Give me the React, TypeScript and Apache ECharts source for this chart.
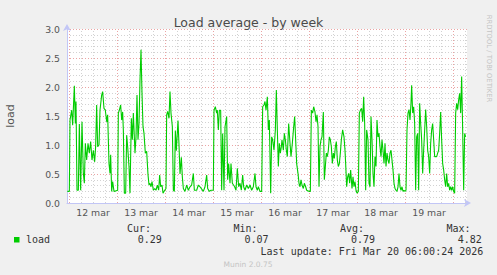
import React, { useEffect, useRef } from "react";
import * as echarts from "echarts";

// hours since Mar 11 23:00 (x), load average (y)
const hours = [
  0.17, 1.17, 1.5, 2.33, 2.83, 3.67, 4.17, 4.5, 5.0, 5.67, 6.17, 6.83, 7.5, 8.17, 8.67, 9.17, 9.83, 10.5, 11.17, 11.83,
  12.5, 13.17, 13.83, 14.33, 14.83, 15.33, 16.0, 16.5, 17.33, 17.83, 18.5, 19.17, 19.83, 20.33, 21.0, 21.5, 21.83, 22.33, 22.83, 23.5,
  25.33, 25.67, 26.17, 26.83, 27.33, 27.83, 28.17, 28.67, 29.33, 29.83, 30.33, 31.0, 31.5, 32.17, 32.67, 33.17, 34.0, 34.5, 35.0, 35.5,
  36.0, 36.5, 37.0, 37.5, 38.0, 38.5, 39.17, 39.83, 40.5, 41.0, 41.5, 42.0, 42.5, 43.17, 43.83, 44.5, 45.17, 45.83, 46.33, 46.83,
  47.5, 48.0, 48.5, 49.5, 49.83, 50.33, 51.0, 51.5, 52.0, 52.67, 53.17, 53.67, 54.17, 54.67, 55.5, 56.0, 56.5, 57.17, 57.67, 58.17,
  59.0, 59.83, 60.67, 61.5, 62.33, 63.17, 63.67, 64.83, 65.67,
  66.5, 68.17, 69.0, 69.83, 70.33, 71.17, 72.0, 73.17, 73.5, 74.17, 74.83, 75.17, 75.67, 76.17, 76.83, 77.33, 77.83, 78.5, 79.0, 79.83,
  80.33, 80.83, 81.5, 82.0, 82.67, 83.83, 84.5, 85.17, 85.83, 86.5, 87.17, 87.83, 88.33, 89.0, 89.83, 90.67, 91.5, 92.33, 93.17, 94.0,
  94.5, 95.17, 95.67, 96.5, 97.33, 97.83, 98.5, 99.0, 99.5, 100.17, 100.67, 101.17, 101.83, 102.33, 102.83, 103.5, 104.17, 104.67, 105.17, 105.67,
  106.17, 106.67, 107.17, 107.5, 108.17, 108.67, 109.17, 109.67, 110.17, 110.83, 111.5, 112.0, 112.67, 113.33, 113.83, 114.33, 114.83, 115.5, 116.0, 116.5,
  117.0, 117.5, 118.17, 118.67, 119.33, 119.83, 121.17, 121.67, 122.17, 122.83, 123.33, 124.0, 124.5, 125.0, 125.5, 126.0, 126.5, 127.0, 127.5, 128.17,
  128.67, 129.17, 129.67, 130.17, 130.67, 131.17, 131.67, 132.17, 132.67, 133.17, 133.67, 134.17, 134.67, 135.17, 135.67, 136.17, 136.67, 137.17, 137.83, 138.5,
  139.0, 139.33, 139.83, 140.33, 140.83, 141.33, 141.83, 142.5, 143.0, 143.5, 144.0, 144.5, 145.0, 145.67, 146.17, 146.83, 147.33, 147.83, 148.33, 148.83,
  149.33, 149.83, 150.5, 151.0, 151.5, 152.0, 152.5, 153.0, 153.5, 154.0, 154.5, 155.0, 155.5, 156.0, 156.5, 157.0, 157.5, 158.0, 158.5, 159.0,
  159.5, 160.0, 160.5, 161.0, 161.5, 162.0, 162.5, 163.0, 163.5, 164.0, 164.5, 165.0, 165.5, 166.0, 166.5, 167.0, 167.5, 168.0, 168.5, 169.0,
  169.5, 170.0, 170.5, 171.0, 171.5, 172.0, 172.33, 172.83, 173.33, 173.83, 174.33, 174.83, 175.33, 175.83, 176.33, 176.83, 177.33, 177.83, 178.33, 178.83,
  179.33, 179.83, 180.33, 180.83, 181.33, 181.83, 182.33, 182.83, 183.33, 183.83, 184.33, 184.83, 185.33, 185.83, 186.33, 186.83, 187.33, 187.83, 188.33, 188.83,
  189.33, 189.83, 190.33, 190.83, 191.33, 191.83, 192.33, 192.83, 193.33, 193.83, 194.33, 194.83, 195.33, 195.83, 196.33, 196.83, 197.33, 197.83, 198.33, 198.83,
  199.33,
];
const load = [
  0.2, 0.2, 1.43, 1.6, 1.34, 2.02, 1.37, 1.75, 0.22, 0.22, 1.36, 0.22, 1.4, 0.51, 0.34, 1.03, 0.74, 1.03, 0.86, 1.06,
  0.74, 0.91, 0.71, 0.98, 1.69, 0.97, 1.0, 1.6, 1.86, 1.92, 1.63, 1.6, 1.4, 1.52, 0.68, 0.51, 0.83, 0.2, 0.37, 0.2,
  0.22, 1.55, 1.6, 1.69, 1.43, 1.57, 1.26, 0.17, 0.17, 1.17, 0.97, 0.63, 0.17, 1.46, 1.09, 1.55, 0.86, 1.14, 1.86, 1.09,
  1.37, 2.12, 2.64, 1.89, 1.32, 1.2, 0.86, 0.89, 0.49, 0.31, 0.34, 0.28, 0.37, 0.22, 0.25, 0.22, 0.31, 0.22, 0.48, 0.28,
  0.31, 0.17, 0.2, 0.25, 1.52, 1.58, 1.46, 1.92, 1.55, 1.32, 0.22, 0.2, 1.25, 0.9, 1.42, 1.0, 0.5, 0.79, 0.45, 0.25,
  0.2, 0.31, 0.22, 0.28, 0.31, 0.51, 0.22, 0.22, 0.31,
  0.28, 0.2, 0.28, 0.48, 0.25, 0.2, 0.22, 0.22, 1.6, 1.66, 1.55, 1.6, 1.26, 1.6, 1.6, 0.22, 1.2, 0.22, 1.31, 1.49,
  0.4, 0.68, 0.34, 0.68, 0.34, 0.28, 0.22, 0.6, 0.28, 0.34, 0.22, 0.48, 0.28, 0.22, 0.31, 0.25, 0.31, 0.22, 0.28, 0.51,
  0.28, 0.22, 0.28, 0.2, 0.2, 1.66, 1.69, 1.75, 1.6, 1.83, 1.26, 1.43, 0.17, 1.14, 1.09, 0.91, 1.26, 1.95, 1.26, 0.63,
  1.03, 0.86, 0.97, 1.09, 0.91, 1.2, 1.09, 0.91, 0.8, 1.37, 1.03, 0.8, 1.03, 1.31, 1.49, 1.09, 0.68, 0.51, 0.34, 0.28,
  0.4, 0.31, 0.25, 0.34, 0.28, 0.22, 0.2, 0.2, 1.6, 1.55, 1.66, 1.57, 1.4, 1.52, 1.32, 0.28, 0.97, 1.09, 1.14, 1.57,
  0.4, 0.63, 0.86, 0.8, 0.91, 1.14, 1.09, 0.97, 0.68, 0.86, 0.77, 0.97, 1.06, 0.74, 0.63, 0.68, 0.86, 1.09, 1.26, 1.14,
  0.91, 0.68, 0.28, 0.45, 0.51, 0.34, 0.57, 0.25, 0.45, 0.28, 0.37, 0.22, 0.17, 0.2, 1.55, 1.61, 1.63, 1.4, 1.83, 1.37,
  0.22, 1.26, 1.09, 0.34, 0.28, 1.49, 1.09, 0.51, 0.28, 0.8, 0.63, 1.43, 1.14, 1.2, 0.97, 0.8, 1.09, 0.91, 0.68, 1.03,
  0.63, 0.86, 0.74, 0.68, 0.86, 0.91, 0.74, 0.57, 0.34, 0.25, 0.22, 0.2, 0.28, 0.51, 0.28, 0.22, 0.28, 0.2, 0.22, 0.2,
  0.22, 1.26, 1.55, 1.61, 1.43, 1.72, 2.03, 1.55, 1.66, 1.37, 0.22, 1.14, 1.2, 0.22, 1.72, 1.37, 1.09, 0.51, 0.91, 1.26,
  1.61, 1.32, 0.91, 0.8, 0.51, 1.03, 1.26, 1.37, 1.09, 0.8, 0.8, 0.8, 0.86, 0.91, 1.2, 1.57, 1.09, 0.68, 0.57, 0.4,
  0.28, 0.51, 0.28, 0.34, 0.22, 0.28, 0.22, 0.28, 0.2, 0.17, 1.55, 1.72, 1.61, 1.78, 1.89, 1.55, 2.18, 1.26, 0.22, 1.2,
  1.14,
];

const dayLabels = ["12 mar", "13 mar", "14 mar", "15 mar", "16 mar", "17 mar", "18 mar", "19 mar"];
const dayStartHours = [1, 25, 49, 73, 97, 121, 145, 169, 193];
const noonHours = [13, 37, 61, 85, 109, 133, 157, 181];
const legendHeaders = ["Cur:", "Min:", "Avg:", "Max:"];
const legendValues = ["0.29", "0.07", "0.79", "4.82"];
const lastUpdate = "Last update: Fri Mar 20 06:00:24 2026";

const GREEN = "#00cc00";
const MONO = "'DejaVu Sans Mono', monospace";
const SANS = "'DejaVu Sans', sans-serif";

export default function App() {
  const ref = useRef<HTMLDivElement>(null);
  useEffect(() => {
    if (!ref.current) return;
    const chart = echarts.init(ref.current, undefined, { renderer: "svg" });

    const minorHours: number[] = [];
    for (let h = 1; h <= 200; h += 6) if ((h - 1) % 24 !== 0) minorHours.push(h);

    const gridMarks = [
      ...minorHours.map((h) => ({
        xAxis: h,
        lineStyle: { color: "#d2d2d2", type: [1, 2] as any, width: 1 },
      })),
      ...dayStartHours.map((h) => ({
        xAxis: h,
        lineStyle: { color: "#eaa4a4", type: [1, 2] as any, width: 1 },
      })),
    ];

    const headerX = [127, 233.5, 340, 446.5];
    const valueX = [137.8, 244.5, 351, 457.8];

    chart.setOption({
      animation: false,
      backgroundColor: "#f0f0f0",
      title: {
        text: "Load average - by week",
        left: "center",
        top: 11,
        textStyle: { fontFamily: SANS, fontSize: 12.5, fontWeight: "normal", color: "#4a4a4a" },
      },
      grid: {
        left: 67,
        top: 29,
        width: 400,
        height: 174,
        show: true,
        backgroundColor: "#ffffff",
        borderWidth: 0,
      },
      xAxis: {
        type: "value",
        min: 0,
        max: 200,
        axisLine: {
          show: true,
          lineStyle: { color: "#c2c6f6", width: 1 },
          symbol: ["none", "arrow"],
          symbolSize: [6, 7],
          symbolOffset: [0, 4],
        },
        axisTick: { show: false },
        splitLine: { show: false },
        axisLabel: {
          customValues: noonHours,
          formatter: (v: number) => {
            const i = noonHours.indexOf(Math.round(v));
            return i >= 0 ? dayLabels[i] : "";
          },
          fontFamily: SANS,
          fontSize: 9.33,
          color: "#555",
          margin: 5,
        },
      },
      yAxis: {
        type: "value",
        min: 0,
        max: 3,
        interval: 0.5,
        axisLine: {
          show: true,
          lineStyle: { color: "#c2c6f6", width: 1 },
          symbol: ["none", "arrow"],
          symbolSize: [6, 7],
          symbolOffset: [0, 5],
        },
        axisTick: { show: false },
        axisLabel: {
          formatter: (v: number) => v.toFixed(1),
          fontFamily: SANS,
          fontSize: 9.33,
          color: "#555",
          margin: 7,
        },
        splitLine: { show: true, lineStyle: { color: "#eaa4a4", type: [1, 2], width: 1 } },
        minorTick: { show: false, splitNumber: 5 },
        minorSplitLine: { show: true, lineStyle: { color: "#d2d2d2", type: [1, 2], width: 1 } },
      },
      series: [
        {
          type: "line",
          data: [],
          z: 1,
          silent: true,
          markLine: {
            silent: true,
            symbol: ["none", "none"],
            label: { show: false },
            animation: false,
            emphasis: { disabled: true },
            data: gridMarks,
          },
        },
        {
          type: "line",
          name: "load",
          z: 5,
          showSymbol: false,
          symbol: "none",
          data: hours.map((h, i) => [h, load[i]]),
          lineStyle: { color: GREEN, width: 1.1 },
          itemStyle: { color: GREEN },
        },
      ],
      graphic: [
        {
          type: "text",
          x: 10.5,
          y: 116,
          rotation: Math.PI / 2,
          style: {
            text: "load",
            font: `11px ${SANS}`,
            fill: "#555",
            align: "center",
            verticalAlign: "middle",
          },
        },
        {
          type: "text",
          x: 488.5,
          y: 58.5,
          rotation: -Math.PI / 2,
          style: {
            text: "RRDTOOL / TOBI OETIKER",
            font: `6.8px ${SANS}`,
            fill: "#c4c4c4",
            align: "center",
            verticalAlign: "middle",
          },
        },
        {
          type: "rect",
          shape: { x: 14, y: 237, width: 5.5, height: 5.5 },
          style: { fill: GREEN },
        },
        {
          type: "text",
          x: 26,
          y: 239.5,
          style: { text: "load", font: `10px ${MONO}`, fill: "#333", verticalAlign: "middle" },
        },
        ...legendHeaders.map((t, i) => ({
          type: "text",
          x: headerX[i],
          y: 228,
          style: { text: t, font: `10px ${MONO}`, fill: "#333", verticalAlign: "middle" },
        })),
        ...legendValues.map((t, i) => ({
          type: "text",
          x: valueX[i],
          y: 239.5,
          style: { text: t, font: `10px ${MONO}`, fill: "#333", verticalAlign: "middle" },
        })),
        {
          type: "text",
          x: 483.3,
          y: 251,
          style: { text: lastUpdate, font: `10px ${MONO}`, fill: "#333", align: "right", verticalAlign: "middle" },
        },
        {
          type: "text",
          x: 248,
          y: 264,
          style: { text: "Munin 2.0.75", font: `7.5px ${SANS}`, fill: "#c4c4c4", align: "center", verticalAlign: "middle" },
        },
      ],
    });
    return () => chart.dispose();
  }, []);

  return (
    <div
      ref={ref}
      style={{ position: "fixed", left: 0, top: 0, width: 497, height: 275 }}
    />
  );
}
